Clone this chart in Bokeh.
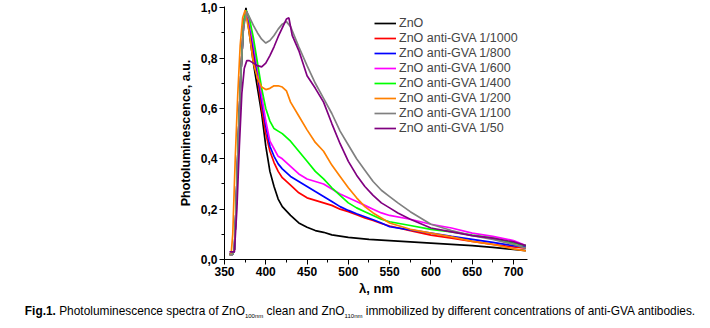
from bokeh.plotting import figure
from bokeh.models import Legend, LegendItem, FixedTicker, Range1d, Div
from bokeh.layouts import column
from bokeh.embed import file_html
from bokeh.resources import INLINE

# ---------------- data ----------------
wl_zno = [356, 360, 362, 364, 367, 370, 373, 376, 380, 385, 390, 395, 400, 405, 410, 415, 420, 430, 440, 450, 460, 470, 480, 500, 525, 550, 575, 600, 625, 650, 675, 700, 715]
pl_zno = [0.02, 0.02, 0.04, 0.2, 0.5, 0.75, 0.93, 1.0, 0.9, 0.78, 0.68, 0.58, 0.45, 0.35, 0.29, 0.24, 0.21, 0.175, 0.145, 0.128, 0.115, 0.108, 0.098, 0.088, 0.08, 0.075, 0.07, 0.065, 0.06, 0.055, 0.048, 0.04, 0.035]

wl_std = [356, 360, 362, 364, 367, 370, 373, 376, 380, 385, 390, 395, 400, 405, 410, 415, 420, 430, 440, 450, 460, 470, 480, 490, 500, 510, 520, 530, 540, 550, 575, 600, 625, 650, 675, 700, 715]
pl_1000 = [0.02, 0.02, 0.04, 0.2, 0.5, 0.75, 0.93, 0.99, 0.93, 0.82, 0.72, 0.6, 0.5, 0.43, 0.385, 0.35, 0.325, 0.295, 0.265, 0.245, 0.235, 0.225, 0.215, 0.2, 0.19, 0.178, 0.165, 0.155, 0.143, 0.133, 0.115, 0.097, 0.085, 0.072, 0.06, 0.05, 0.045]
pl_800 = [0.02, 0.02, 0.04, 0.2, 0.5, 0.75, 0.93, 0.99, 0.94, 0.84, 0.74, 0.63, 0.53, 0.45, 0.41, 0.38, 0.36, 0.33, 0.31, 0.29, 0.27, 0.25, 0.23, 0.21, 0.195, 0.182, 0.17, 0.158, 0.145, 0.13, 0.118, 0.105, 0.092, 0.08, 0.068, 0.055, 0.05]
pl_600 = [0.02, 0.02, 0.04, 0.2, 0.5, 0.75, 0.93, 0.99, 0.95, 0.86, 0.76, 0.65, 0.55, 0.47, 0.44, 0.41, 0.4, 0.37, 0.34, 0.32, 0.31, 0.3, 0.28, 0.26, 0.245, 0.23, 0.215, 0.2, 0.185, 0.175, 0.16, 0.14, 0.125, 0.105, 0.092, 0.075, 0.055]
pl_400 = [0.02, 0.02, 0.04, 0.2, 0.5, 0.75, 0.93, 0.99, 0.96, 0.88, 0.78, 0.68, 0.6, 0.55, 0.52, 0.51, 0.5, 0.47, 0.43, 0.39, 0.35, 0.32, 0.285, 0.255, 0.225, 0.205, 0.19, 0.175, 0.16, 0.15, 0.135, 0.12, 0.11, 0.097, 0.085, 0.065, 0.055]

wl_200 = [356, 358, 360, 363, 366, 369, 372, 375, 380, 385, 390, 395, 400, 405, 410, 415, 420, 425, 430, 440, 450, 460, 470, 480, 490, 500, 510, 520, 530, 540, 550, 575, 600, 625, 650, 675, 700, 715]
pl_200 = [0.02, 0.02, 0.1, 0.4, 0.65, 0.85, 0.96, 0.99, 0.9, 0.78, 0.72, 0.685, 0.675, 0.68, 0.69, 0.69, 0.685, 0.67, 0.625, 0.57, 0.515, 0.465, 0.43, 0.375, 0.33, 0.285, 0.245, 0.21, 0.185, 0.165, 0.145, 0.12, 0.105, 0.09, 0.072, 0.06, 0.042, 0.034]

wl_100 = [356, 360, 362, 364, 367, 370, 373, 377, 385, 390, 395, 400, 405, 410, 415, 420, 425, 430, 440, 450, 460, 470, 480, 490, 500, 510, 520, 530, 540, 550, 560, 575, 600, 625, 650, 675, 700, 715]
pl_100 = [0.02, 0.02, 0.04, 0.2, 0.5, 0.75, 0.92, 0.985, 0.93, 0.9, 0.875, 0.86, 0.87, 0.89, 0.915, 0.935, 0.945, 0.925, 0.845, 0.77, 0.7, 0.64, 0.58, 0.51, 0.455, 0.4, 0.355, 0.31, 0.275, 0.25, 0.225, 0.19, 0.14, 0.115, 0.095, 0.08, 0.06, 0.045]

wl_50 = [356, 362, 365, 368, 371, 374, 377, 380, 385, 390, 395, 400, 405, 410, 415, 420, 425, 428, 432, 440, 450, 460, 470, 480, 490, 500, 510, 520, 530, 540, 550, 560, 575, 600, 625, 650, 675, 700, 715]
pl_50 = [0.03, 0.03, 0.2, 0.45, 0.66, 0.76, 0.79, 0.79, 0.78, 0.77, 0.765, 0.78, 0.81, 0.845, 0.885, 0.92, 0.955, 0.96, 0.89, 0.83, 0.73, 0.68, 0.625, 0.54, 0.46, 0.39, 0.335, 0.29, 0.255, 0.225, 0.205, 0.185, 0.16, 0.125, 0.11, 0.095, 0.085, 0.07, 0.055]

labels = ["ZnO", "ZnO anti-GVA 1/1000", "ZnO anti-GVA 1/800", "ZnO anti-GVA 1/600",
          "ZnO anti-GVA 1/400", "ZnO anti-GVA 1/200", "ZnO anti-GVA 1/100", "ZnO anti-GVA 1/50"]
colors = ["#000000", "#FF0000", "#0000FF", "#FF00FF", "#00FF00", "#FF8000", "#808080", "#800080"]
series = [(wl_zno, pl_zno), (wl_std, pl_1000), (wl_std, pl_800), (wl_std, pl_600),
          (wl_std, pl_400), (wl_200, pl_200), (wl_100, pl_100), (wl_50, pl_50)]

x_ticks = [350, 400, 450, 500, 550, 600, 650, 700]
y_ticks = [0.0, 0.2, 0.4, 0.6, 0.8, 1.0]
y_tick_labels = ["0,0", "0,2", "0,4", "0,6", "0,8", "1,0"]

FONT = "Liberation Sans"

p = figure(width=710, height=298, output_backend="svg", toolbar_location=None,
           x_range=Range1d(350, 717), y_range=Range1d(0, 1.005),
           min_border_left=224, min_border_right=183, min_border_top=6, min_border_bottom=36)
p.outline_line_color = None
p.grid.visible = False
p.background_fill_color = "white"

items = []
for (xs, ys), lab, col in zip(series, labels, colors):
    r = p.line(xs, ys, line_color=col, line_width=1.7)
    items.append(LegendItem(label=lab, renderers=[r]))

legend = Legend(items=items, location=(150, 124), glyph_width=22, glyph_height=14,
                label_height=15, spacing=0, padding=0, margin=0, label_standoff=3,
                label_text_font=FONT, label_text_font_size="12.5px",
                border_line_alpha=0, background_fill_alpha=0)
p.add_layout(legend)

p.xaxis.ticker = FixedTicker(ticks=x_ticks, minor_ticks=[375, 425, 475, 525, 575, 625, 675, 725])
p.yaxis.ticker = FixedTicker(ticks=y_ticks, minor_ticks=[0.1, 0.3, 0.5, 0.7, 0.9])
p.yaxis.major_label_overrides = {t: s for t, s in zip(y_ticks, y_tick_labels)}

for ax in (p.xaxis, p.yaxis):
    ax.major_tick_out = 5
    ax.major_tick_in = 0
    ax.minor_tick_out = 3
    ax.minor_tick_in = 0
    ax.major_label_text_font = FONT
    ax.major_label_text_font_style = "bold"
    ax.major_label_text_font_size = "12px"
    ax.major_label_text_color = "black"
    ax.axis_label_text_font = FONT
    ax.axis_label_text_font_style = "bold"
    ax.axis_label_text_color = "black"
    ax.axis_line_color = "black"
    ax.major_tick_line_color = "black"
    ax.minor_tick_line_color = "black"

p.xaxis.axis_label = "λ, nm"
p.xaxis.axis_label_text_font_size = "13px"
p.xaxis.axis_label_standoff = 2
p.xaxis.major_label_standoff = 2
p.yaxis.axis_label = "Photoluminescence, a.u."
p.yaxis.axis_label_text_font_size = "12.5px"
p.yaxis.axis_label_standoff = 5
p.yaxis.major_label_standoff = 2

caption = Div(
    text=('<b>Fig.1.</b> Photoluminescence spectra of ZnO<sub style="font-size:6px">100nm</sub> clean and '
          'ZnO<sub style="font-size:6px">110nm</sub> immobilized by different concentrations of anti-GVA antibodies.'),
    width=710, height=30,
    styles={"text-align": "center", "font-family": FONT, "font-size": "11.9px",
            "color": "black", "line-height": "16px"})

layout = column(p, caption, spacing=0)
open("out.html", "w").write(file_html(layout, INLINE))
